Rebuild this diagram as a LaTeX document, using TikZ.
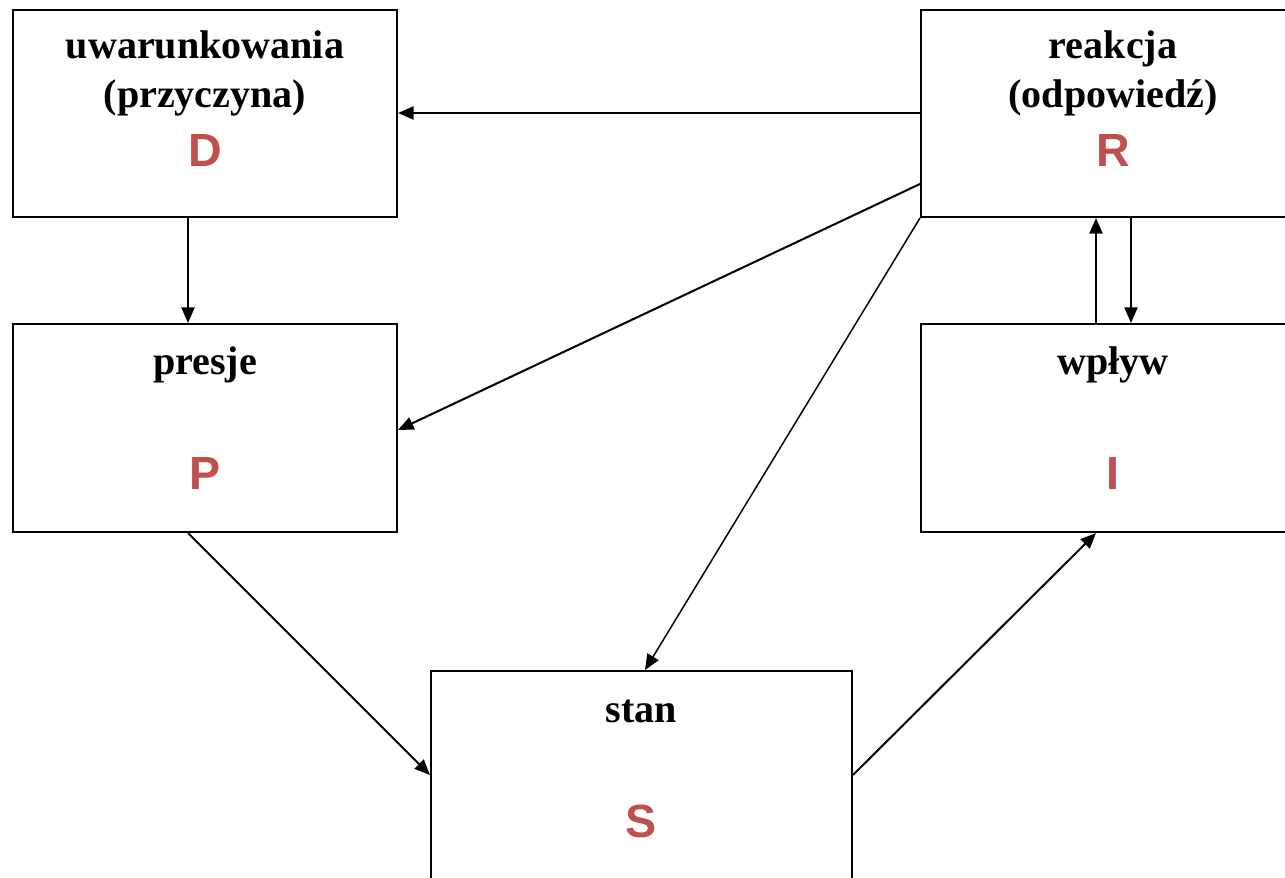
\documentclass[tikz,border=0pt]{standalone}
\usepackage{fontspec}
\setmainfont{Liberation Serif}
\newfontfamily\lettersf{Liberation Sans}
\usetikzlibrary{arrows.meta}
\definecolor{letterred}{HTML}{C0504D}
\tikzset{
  box/.style={draw=black, line width=1.2pt, rectangle, minimum width=7.68cm, minimum height=4.14cm, inner sep=0pt},
  ttl/.style={anchor=base, inner sep=0pt, font=\fontsize{22.8}{26}\selectfont\bfseries},
  ltr/.style={anchor=base, inner sep=0pt, text=letterred, font=\fontsize{26.5}{30}\selectfont\lettersf\bfseries},
  arr/.style={line width=1.15pt, -{Triangle[length=0.31cm, width=0.26cm]}},
  thinarr/.style={line width=0.85pt, -{Triangle[length=0.31cm, width=0.26cm]}}
}
\begin{document}
\begin{tikzpicture}[x=0.02cm, y=-0.02cm]
\useasboundingbox (0,0) rectangle (1285,878);
\clip (0,0) rectangle (1285,878);
\fill[white] (0,0) rectangle (1285,878);
% boxes
\node[box] (D) at (205,113.5) {};
\node[box] (R) at (1113,113.5) {};
\node[box, minimum height=4.16cm] (P) at (205,428) {};
\node[box, minimum height=4.16cm] (I) at (1113,428) {};
\node[box, minimum width=8.42cm, minimum height=4.16cm] (S) at (641.5,775) {};
% texts
\node[ttl] (D1) at (205,59) {uwarunkowania};
\node[ttl] (D2) at (205,108) {(przyczyna)};
\node[ltr] (D3) at (205,167) {D};
\node[ttl] (R1) at (1113,59) {reakcja};
\node[ttl] (R2) at (1113,108) {(odpowiedź)};
\node[ltr] (R3) at (1113,167) {R};
\node[ttl] (P1) at (205,375) {presje};
\node[ltr] (P2) at (205,489) {P};
\node[ttl] (I1) at (1113,375) {wpływ};
\node[ltr] (I2) at (1113,489) {I};
\node[ttl] (S1) at (641.5,722) {stan};
\node[ltr] (S2) at (641.5,837) {S};
% connectors
\draw[arr] ([yshift=0.01cm]R.west) -- ([yshift=0.01cm]D.east);
\draw[arr] ([xshift=-0.34cm]D.south) -- ([xshift=-0.34cm]P.north);
\draw[arr] ([yshift=-1.41cm]R.west) -- ([yshift=-0.04cm]P.east);
\draw[thinarr] (R.south west) -- ([xshift=0.07cm]S.north);
\draw[arr] ([xshift=-0.34cm]I.north) -- ([xshift=-0.34cm]R.south);
\draw[arr] ([xshift=0.36cm]R.south) -- ([xshift=0.36cm]I.north);
\draw[arr] ([xshift=-0.34cm]P.south) -- (S.west);
\draw[arr] (S.east) -- ([xshift=-0.34cm]I.south);
\end{tikzpicture}
\end{document}
